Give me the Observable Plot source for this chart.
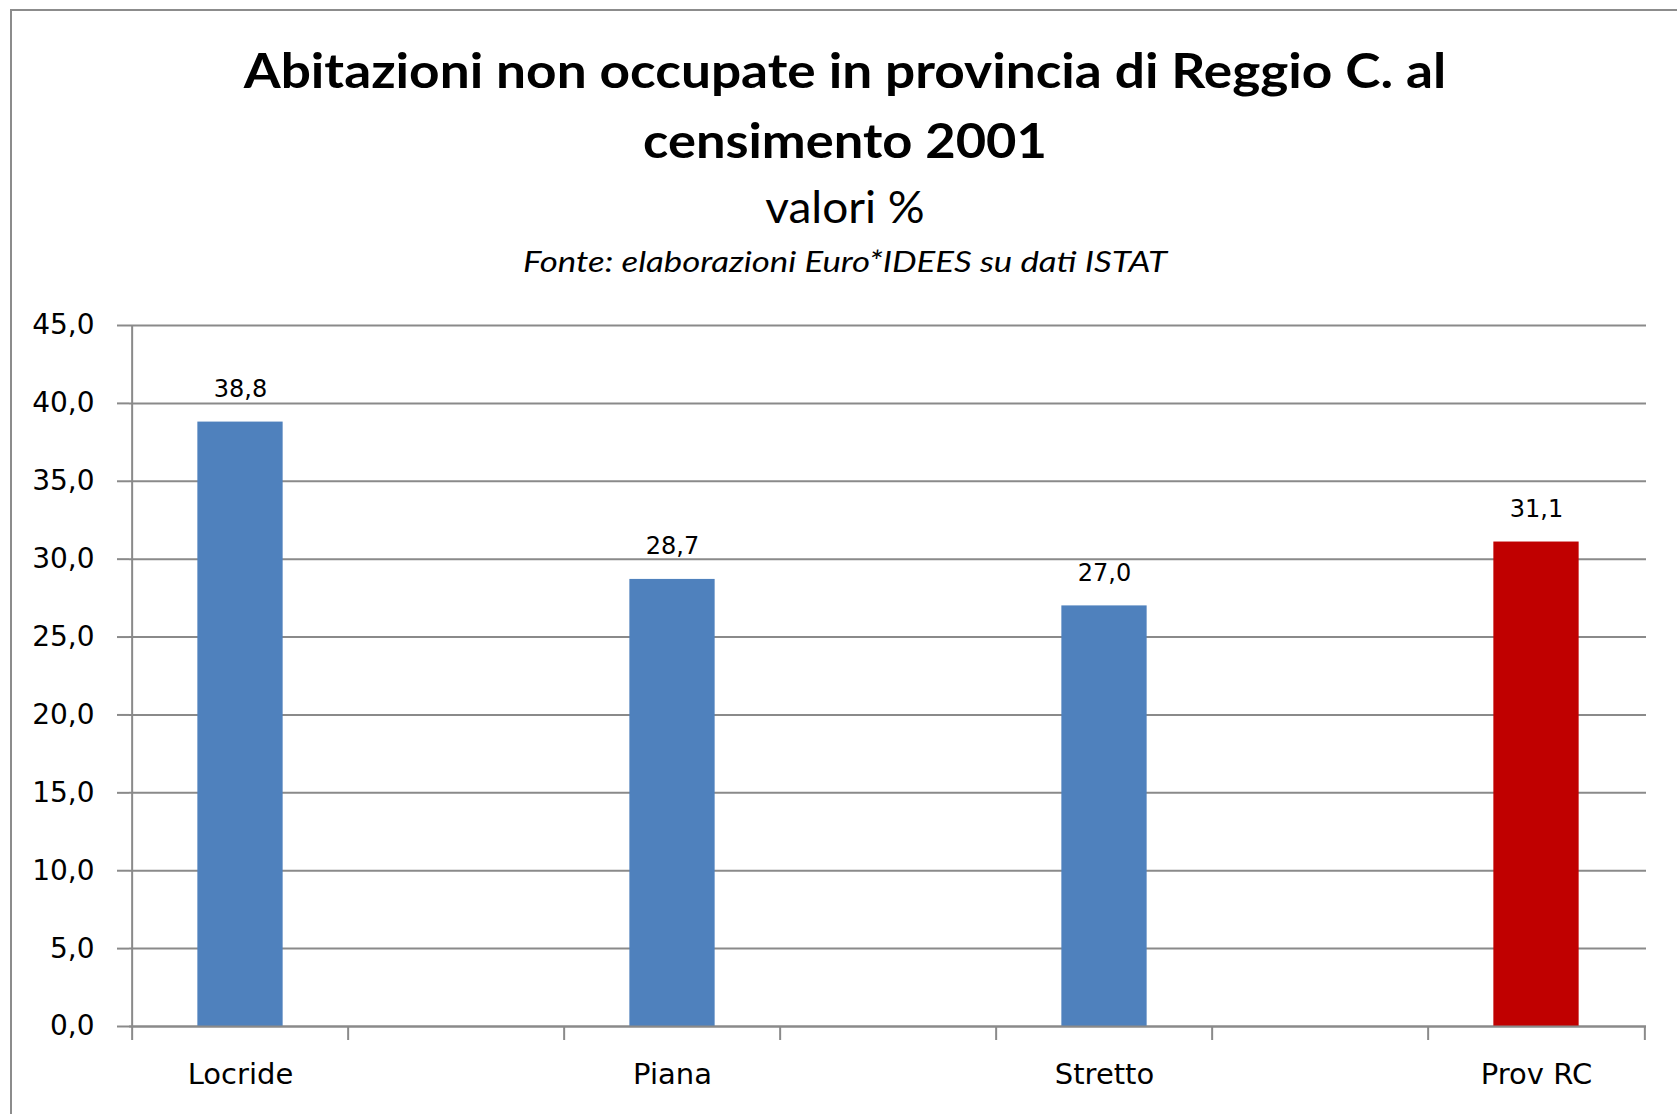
<!DOCTYPE html>
<html>
<head>
<meta charset="utf-8">
<script src="https://cdn.jsdelivr.net/npm/d3@7"></script>
<script src="https://cdn.jsdelivr.net/npm/@observablehq/plot@0.6"></script>
<style>
html, body { margin: 0; padding: 0; background: #fff; }
body { width: 1677px; height: 1114px; position: relative; overflow: hidden; }
#frame { position: absolute; left: 10px; top: 9px; width: 1720px; height: 1130px; border: 2px solid #8c8c8c; box-sizing: border-box; }
.t { position: absolute; left: 845px; white-space: nowrap; line-height: 1; color: #000; transform-origin: 50% 50%; font-family: Lato, "Open Sans", sans-serif; }
#chart { position: absolute; left: 0; top: 280px; }
</style>
</head>
<body>
<div id="frame"></div>
<div class="t" id="t1" data-w="1203" style="top:47px; font-size:47px; font-weight:700;">Abitazioni non occupate in provincia di Reggio C. al</div>
<div class="t" id="t2" data-w="404" style="top:117px; font-size:47px; font-weight:700;">censimento 2001</div>
<div class="t" id="t3" data-w="160" style="top:184px; font-size:44px; font-weight:400;">valori %</div>
<div class="t" id="t4" data-w="644" style="top:247px; font-size:28px; font-weight:400; font-style:italic;">Fonte: elaborazioni Euro*IDEES su dati ISTAT</div>
<div id="chart"></div>
<script>
// ---- data ----
const categories = ["Locride", "Piana", "Stretto", "Prov RC"];
const values = [38.8, 28.7, 27.0, 31.1];
const barColors = ["#4F81BD", "#4F81BD", "#4F81BD", "#C00000"];
const yTicks = [0, 5, 10, 15, 20, 25, 30, 35, 40, 45];
const spacers = [" 1", " 2", " 3"];

// x domain: categories interleaved with empty slots (as in the original axis)
const xDomain = [];
categories.forEach((c, i) => { xDomain.push(c); if (i < spacers.length) xDomain.push(spacers[i]); });

const data = categories.map((c, i) => ({c, v: values[i], color: barColors[i]}));
const fmt = (d) => d.toFixed(1).replace(".", ",");

const W = 1677, ML = 129, MR = 31, MT = 45, MB = 70, H = 816;
const band = (W - ML - MR) / xDomain.length;
const barW = 86;
const inset = (band - barW) / 2;
const grey = "#8a8a8a";

const chart = Plot.plot({
  width: W, height: H,
  marginLeft: ML, marginRight: MR, marginTop: MT, marginBottom: MB,
  style: {fontFamily: "'DejaVu Sans', sans-serif", color: "#000", background: "transparent", overflow: "visible"},
  x: {type: "band", domain: xDomain, padding: 0},
  y: {domain: [0, 45]},
  marks: [
    Plot.ruleY(yTicks, {stroke: grey, strokeWidth: 2}),
    Plot.axisY({ticks: yTicks, tickSize: 12, tickPadding: 23, tickFormat: fmt, fontSize: 28, stroke: grey, strokeWidth: 2, label: null}),
    Plot.barY(data, {x: "c", y: "v", fill: "color", insetLeft: inset, insetRight: inset}),
    Plot.ruleX([xDomain[0]], {x: d => d, dx: -band / 2, stroke: grey, strokeWidth: 2}),
    Plot.ruleX(xDomain, {x: d => d, dx: -band / 2, y1: 0, y2: 0, insetBottom: -14, stroke: grey, strokeWidth: 2}),
    Plot.ruleX([xDomain[xDomain.length - 1]], {x: d => d, dx: band / 2, y1: 0, y2: 0, insetBottom: -14, stroke: grey, strokeWidth: 2}),
    Plot.ruleY([0], {stroke: grey, strokeWidth: 2}),
    Plot.text(data, {x: "c", y: "v", text: d => fmt(d.v), dy: -33, fontSize: 24, fill: "#000"}),
    Plot.axisX({tickSize: 0, tickPadding: 37, fontSize: 29, tickFormat: d => categories.includes(d) ? d : "", label: null})
  ]
});
document.getElementById("chart").appendChild(chart);

function fit() {
  document.querySelectorAll(".t").forEach(el => {
    el.style.transform = "none";
    const w = el.offsetWidth;
    const s = (+el.dataset.w) / w;
    el.style.transform = `translateX(-50%) scaleX(${s})`;
  });
}
fit();
if (document.fonts && document.fonts.ready) document.fonts.ready.then(fit);
</script>
</body>
</html>
